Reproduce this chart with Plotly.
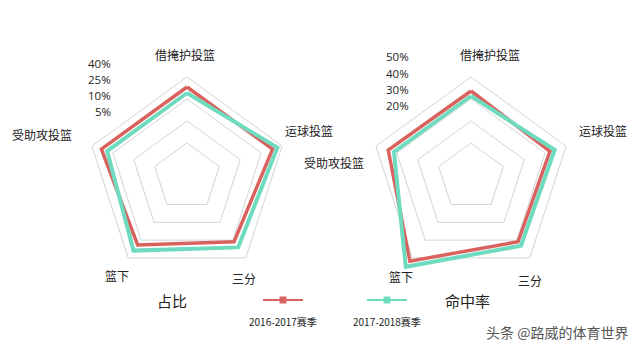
import plotly.graph_objects as go

W, H = 640, 353

categories = ["借掩护投篮", "运球投篮", "三分", "篮下", "受助攻投篮"]
seasons = ["2016-2017赛季", "2017-2018赛季"]

# values as fraction (%) of outer ring radius
share_1617 = [90, 90, 80, 84, 90]
share_1718 = [84, 95, 87, 91, 84]
fg_1617 = [86, 83, 80, 104, 87]
fg_1718 = [81, 88, 85, 111, 81]

share_ring_labels = ["40%", "25%", "10%", "5%"]
fg_ring_labels = ["50%", "40%", "30%", "20%"]
ring_vals = [34, 56, 78, 100]

RED = "#d9625f"
GREEN = "#6edbbf"
GRID = "#d4d4d4"
FONT = "Noto Sans CJK SC"

def px(x):
    return x / W

def py(y):
    return 1 - y / H

RMAX = 115
RPIX = 100 * RMAX / 100.0  # pixel radius for range max

def domain(cx, cy):
    r = RPIX
    return dict(x=[px(cx - r), px(cx + r)], y=[py(cy + r), py(cy - r)])

fig = go.Figure()

def add_radar(sub, v1, v2):
    for vals, col, name, w in [(v1, RED, seasons[0], 3.5), (v2, GREEN, seasons[1], 4)]:
        fig.add_trace(go.Scatterpolar(
            r=vals + vals[:1], theta=categories + categories[:1],
            mode="lines", line=dict(color=col, width=w), name=name,
            subplot=sub, showlegend=False, hoverinfo="skip"))

add_radar("polar", share_1617, share_1718)
add_radar("polar2", fg_1617, fg_1718)

def polar_layout(cx, cy):
    return dict(
        domain=domain(cx, cy),
        bgcolor="rgba(0,0,0,0)",
        gridshape="linear",
        radialaxis=dict(range=[0, RMAX], tickvals=ring_vals, showticklabels=False,
                        ticks="", showline=False, gridcolor=GRID, gridwidth=1),
        angularaxis=dict(categoryorder="array", categoryarray=categories,
                         rotation=90, direction="clockwise", showgrid=False,
                         showticklabels=False, ticks="", showline=False),
    )

fig.update_layout(
    width=W, height=H, margin=dict(l=0, r=0, t=0, b=0),
    paper_bgcolor="white", plot_bgcolor="white",
    polar=polar_layout(187, 177),
    polar2=polar_layout(471, 177),
    showlegend=False,
    font=dict(family=FONT, color="#222"),
)

ann = []

def text(x, y, s, size=12, xanchor="center", color="#222", family=FONT):
    ann.append(dict(x=px(x), y=py(y), xref="paper", yref="paper", text=s,
                    showarrow=False, xanchor=xanchor, yanchor="middle",
                    font=dict(size=size, color=color, family=family)))

# left radar labels
text(185, 55, categories[0], 12)
text(309, 130, categories[1], 12)
text(42, 134, categories[4], 12)
text(117, 275, categories[3], 12)
text(244, 278, categories[2], 12)
for i, lab in enumerate(share_ring_labels):
    text(113, 64 + i * 15.7, lab, 11.5, xanchor="right", family="Open Sans")

# right radar labels
text(490, 55, categories[0], 12)
text(603, 130, categories[1], 12)
text(334, 162, categories[4], 12)
text(401, 276, categories[3], 12)
text(530, 280, categories[2], 12)
for i, lab in enumerate(fg_ring_labels):
    text(411, 57 + i * 16.2, lab, 11.5, xanchor="right", family="Open Sans")

# titles
text(172, 300, "占比", 15)
text(467, 300, "命中率", 15)

# legend
shapes = []
for xc, col, lab in [(283, RED, seasons[0]), (387, GREEN, seasons[1])]:
    shapes.append(dict(type="line", xref="paper", yref="paper",
                       x0=px(xc - 20), x1=px(xc + 20), y0=py(300), y1=py(300),
                       line=dict(color=col, width=2)))
    shapes.append(dict(type="rect", xref="paper", yref="paper",
                       x0=px(xc - 3.5), x1=px(xc + 3.5), y0=py(303.5), y1=py(296.5),
                       line=dict(width=0), fillcolor=col))
    text(xc, 321, lab, 10)

# watermark
text(630, 332, "头条 @路威的体育世界", 14, xanchor="right", color="#555")

fig.update_layout(annotations=ann, shapes=shapes)
fig.write_html("out.html")
